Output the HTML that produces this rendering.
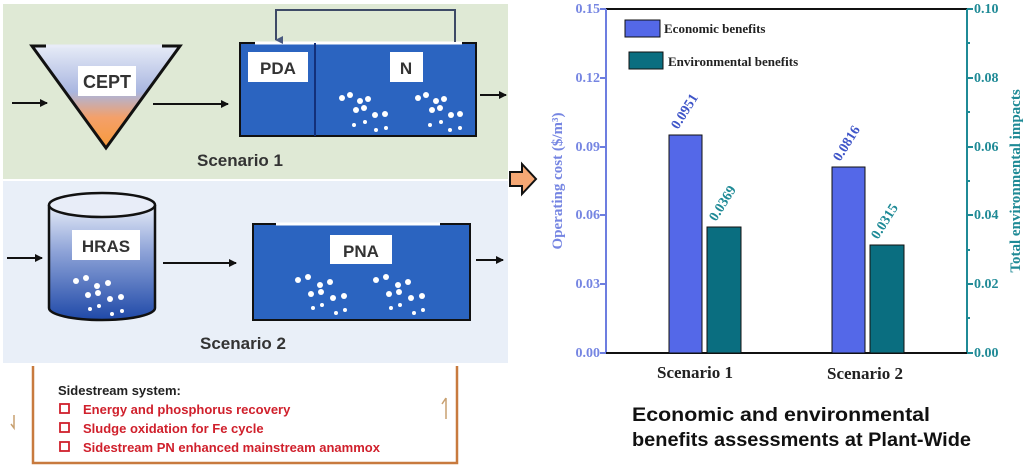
<!DOCTYPE html>
<html><head><meta charset="utf-8"><style>html,body{margin:0;padding:0;background:#fff;}svg{display:block}</style></head>
<body>
<svg width="1026" height="467" viewBox="0 0 1026 467" xmlns="http://www.w3.org/2000/svg">
<defs>
<linearGradient id="cept" x1="0" y1="0" x2="0" y2="1"><stop offset="0" stop-color="#e6ebf7"/><stop offset="0.45" stop-color="#a9b6e0"/><stop offset="0.7" stop-color="#f4a06a"/><stop offset="1" stop-color="#f79a3a"/></linearGradient>
<linearGradient id="cyl" x1="0" y1="0" x2="0" y2="1"><stop offset="0" stop-color="#e6ecf8"/><stop offset="0.4" stop-color="#8fa4d8"/><stop offset="1" stop-color="#1f49a8"/></linearGradient>
<marker id="ah" markerWidth="8" markerHeight="8" refX="7" refY="4" orient="auto" markerUnits="userSpaceOnUse"><path d="M0,0 L8,4 L0,8 z" fill="#111"/></marker>
<marker id="ah2" markerWidth="8" markerHeight="8" refX="4" refY="7" orient="auto" markerUnits="userSpaceOnUse"><path d="M0,0 L8,0 L4,8 z" fill="#4a5a80"/></marker>
</defs>
<rect x="3" y="4" width="505" height="175" fill="#dfe9d5"/>
<rect x="3" y="181" width="505" height="182" fill="#e9eff8"/>
<polygon points="32,46 180,46 106,148" fill="url(#cept)" stroke="#111" stroke-width="3"/>
<line x1="46" y1="46" x2="162" y2="46" stroke="#e8ecf8" stroke-width="3"/>
<rect x="78" y="66" width="58" height="30" fill="#fff"/>
<text x="107" y="88" font-family="Liberation Sans, sans-serif" font-weight="bold" font-size="18" fill="#333" text-anchor="middle">CEPT</text>
<line x1="12" y1="103" x2="47" y2="103" stroke="#111" stroke-width="2" marker-end="url(#ah)"/>
<line x1="153" y1="104" x2="228" y2="104" stroke="#111" stroke-width="2" marker-end="url(#ah)"/>
<rect x="240" y="43" width="236" height="93" fill="#2b64c0" stroke="#111" stroke-width="2"/>
<line x1="255" y1="43" x2="462" y2="43" stroke="#fff" stroke-width="3"/>
<line x1="315" y1="43" x2="315" y2="136" stroke="#13307a" stroke-width="2"/>
<rect x="248" y="52" width="60" height="30" fill="#fff"/>
<text x="278" y="74" font-family="Liberation Sans, sans-serif" font-weight="bold" font-size="17" fill="#333" text-anchor="middle">PDA</text>
<rect x="390" y="52" width="33" height="30" fill="#fff"/>
<text x="406" y="74" font-family="Liberation Sans, sans-serif" font-weight="bold" font-size="17" fill="#333" text-anchor="middle">N</text>
<g fill="#fff">
<circle cx="342" cy="98" r="3"/><circle cx="350" cy="95" r="3"/><circle cx="360" cy="101" r="3"/><circle cx="368" cy="99" r="3"/><circle cx="356" cy="110" r="3"/><circle cx="364" cy="108" r="3"/><circle cx="375" cy="115" r="3"/><circle cx="385" cy="114" r="3"/><circle cx="354" cy="125" r="2"/><circle cx="365" cy="122" r="2"/><circle cx="376" cy="130" r="2"/><circle cx="386" cy="128" r="2"/>
<circle cx="418" cy="98" r="3"/><circle cx="426" cy="95" r="3"/><circle cx="436" cy="101" r="3"/><circle cx="444" cy="99" r="3"/><circle cx="432" cy="110" r="3"/><circle cx="440" cy="108" r="3"/><circle cx="451" cy="115" r="3"/><circle cx="460" cy="114" r="3"/><circle cx="430" cy="125" r="2"/><circle cx="441" cy="122" r="2"/><circle cx="450" cy="130" r="2"/><circle cx="460" cy="128" r="2"/>
</g>
<polyline points="455,42 455,10 276,10 276,40" fill="none" stroke="#3e4a66" stroke-width="2" marker-end="url(#ah2)"/>
<line x1="480" y1="95" x2="506" y2="95" stroke="#111" stroke-width="2" marker-end="url(#ah)"/>
<text x="240" y="166" font-family="Liberation Sans, sans-serif" font-weight="bold" font-size="17" fill="#333" text-anchor="middle">Scenario 1</text>
<polygon points="510,172 522,172 522,164 536,179 522,194 522,186 510,186" fill="#f4a774" stroke="#111" stroke-width="2"/>
<path d="M49,205 L49,308 A53,12 0 0 0 155,308 L155,205" fill="url(#cyl)" stroke="#111" stroke-width="2.5"/>
<ellipse cx="102" cy="205" rx="53" ry="12" fill="#e8edf8" stroke="#111" stroke-width="2.5"/>
<rect x="72" y="230" width="68" height="30" fill="#fff"/>
<text x="106" y="252" font-family="Liberation Sans, sans-serif" font-weight="bold" font-size="17" fill="#333" text-anchor="middle">HRAS</text>
<g fill="#fff"><circle cx="76" cy="281" r="3"/><circle cx="86" cy="278" r="3"/><circle cx="97" cy="286" r="3"/><circle cx="108" cy="283" r="3"/><circle cx="88" cy="295" r="3"/><circle cx="98" cy="293" r="3"/><circle cx="110" cy="299" r="3"/><circle cx="121" cy="297" r="3"/><circle cx="90" cy="309" r="2"/><circle cx="99" cy="306" r="2"/><circle cx="112" cy="314" r="2"/><circle cx="122" cy="311" r="2"/></g>
<line x1="7" y1="258" x2="42" y2="258" stroke="#111" stroke-width="2" marker-end="url(#ah)"/>
<line x1="163" y1="263" x2="236" y2="263" stroke="#111" stroke-width="2" marker-end="url(#ah)"/>
<rect x="253" y="224" width="217" height="96" fill="#2b64c0" stroke="#111" stroke-width="2"/>
<line x1="276" y1="224" x2="440" y2="224" stroke="#fff" stroke-width="3"/>
<rect x="330" y="235" width="62" height="29" fill="#fff"/>
<text x="361" y="257" font-family="Liberation Sans, sans-serif" font-weight="bold" font-size="17" fill="#333" text-anchor="middle">PNA</text>
<g fill="#fff">
<circle cx="298" cy="280" r="3"/><circle cx="308" cy="277" r="3"/><circle cx="320" cy="285" r="3"/><circle cx="330" cy="282" r="3"/><circle cx="311" cy="294" r="3"/><circle cx="321" cy="292" r="3"/><circle cx="333" cy="298" r="3"/><circle cx="344" cy="296" r="3"/><circle cx="313" cy="308" r="2"/><circle cx="322" cy="305" r="2"/><circle cx="336" cy="313" r="2"/><circle cx="345" cy="310" r="2"/>
<circle cx="376" cy="280" r="3"/><circle cx="386" cy="277" r="3"/><circle cx="398" cy="285" r="3"/><circle cx="408" cy="282" r="3"/><circle cx="389" cy="294" r="3"/><circle cx="399" cy="292" r="3"/><circle cx="411" cy="298" r="3"/><circle cx="422" cy="296" r="3"/><circle cx="391" cy="308" r="2"/><circle cx="400" cy="305" r="2"/><circle cx="414" cy="313" r="2"/><circle cx="423" cy="310" r="2"/>
</g>
<line x1="476" y1="260" x2="503" y2="260" stroke="#111" stroke-width="2" marker-end="url(#ah)"/>
<text x="243" y="349" font-family="Liberation Sans, sans-serif" font-weight="bold" font-size="17" fill="#333" text-anchor="middle">Scenario 2</text>
<polyline points="33,366 33,463 457,463 457,366" fill="none" stroke="#c87a3e" stroke-width="2.5"/>
<text x="58" y="395" font-family="Liberation Sans, sans-serif" font-weight="bold" font-size="13" fill="#222">Sidestream system:</text>
<g font-family="Liberation Sans, sans-serif" font-weight="bold" font-size="13" fill="#d0202c">
<text x="83" y="414">Energy and phosphorus recovery</text>
<text x="83" y="433">Sludge oxidation for Fe cycle</text>
<text x="83" y="452">Sidestream  PN enhanced mainstream anammox</text>
</g>
<g fill="none" stroke="#d0202c" stroke-width="1.8"><rect x="60" y="404" width="9" height="9"/><rect x="60" y="423" width="9" height="9"/><rect x="60" y="442" width="9" height="9"/></g>
<path d="M14,415 L14,428 L11,424" fill="none" stroke="#c8a070" stroke-width="1.5"/>
<path d="M446,398 L446,419 M446,398 L442,404" fill="none" stroke="#c8a070" stroke-width="1.5"/>
<rect x="606" y="9" width="361" height="344" fill="#fff" stroke="#111" stroke-width="2"/>
<line x1="606" y1="9" x2="606" y2="353" stroke="#6d7ee0" stroke-width="2"/>
<line x1="967" y1="9" x2="967" y2="353" stroke="#1f8a96" stroke-width="2"/>
<line x1="606" y1="353" x2="967" y2="353" stroke="#111" stroke-width="2"/>
<g stroke="#6d7ee0" stroke-width="2"><line x1="600" y1="9" x2="606" y2="9"/><line x1="600" y1="78" x2="606" y2="78"/><line x1="600" y1="147" x2="606" y2="147"/><line x1="600" y1="215" x2="606" y2="215"/><line x1="600" y1="284" x2="606" y2="284"/><line x1="600" y1="353" x2="606" y2="353"/></g>
<g stroke="#1f8a96" stroke-width="2"><line x1="967" y1="9" x2="973" y2="9"/><line x1="967" y1="78" x2="973" y2="78"/><line x1="967" y1="147" x2="973" y2="147"/><line x1="967" y1="215" x2="973" y2="215"/><line x1="967" y1="284" x2="973" y2="284"/><line x1="967" y1="353" x2="973" y2="353"/><line x1="967" y1="43" x2="970" y2="43"/><line x1="967" y1="112" x2="970" y2="112"/><line x1="967" y1="181" x2="970" y2="181"/><line x1="967" y1="250" x2="970" y2="250"/><line x1="967" y1="318" x2="970" y2="318"/></g>
<g font-family="Liberation Serif, serif" font-weight="bold" font-size="14" fill="#7585e2" text-anchor="end">
<text x="600" y="13">0.15</text><text x="600" y="82">0.12</text><text x="600" y="151">0.09</text><text x="600" y="219">0.06</text><text x="600" y="288">0.03</text><text x="600" y="357">0.00</text>
</g>
<g font-family="Liberation Serif, serif" font-weight="bold" font-size="14" fill="#1f8a96">
<text x="974" y="13">0.10</text><text x="974" y="82">0.08</text><text x="974" y="151">0.06</text><text x="974" y="219">0.04</text><text x="974" y="288">0.02</text><text x="974" y="357">0.00</text>
</g>
<text transform="translate(562,181) rotate(-90)" font-family="Liberation Serif, serif" font-weight="bold" font-size="15" fill="#7585e2" text-anchor="middle">Operating cost ($/m³)</text>
<text transform="translate(1020,181) rotate(-90)" font-family="Liberation Serif, serif" font-weight="bold" font-size="15" fill="#1f8a96" text-anchor="middle">Total environmental impacts</text>
<rect x="669" y="135" width="33" height="218" fill="#5468e8" stroke="#111" stroke-width="1"/>
<rect x="707" y="227" width="34" height="126" fill="#0a6e80" stroke="#111" stroke-width="1"/>
<rect x="832" y="167" width="33" height="186" fill="#5468e8" stroke="#111" stroke-width="1"/>
<rect x="870" y="245" width="34" height="108" fill="#0a6e80" stroke="#111" stroke-width="1"/>
<g font-family="Liberation Serif, serif" font-weight="bold" font-size="14">
<text transform="translate(678,130) rotate(-58)" fill="#3f55c8">0.0951</text>
<text transform="translate(716,222) rotate(-58)" fill="#1f8a96">0.0369</text>
<text transform="translate(840,162) rotate(-58)" fill="#3f55c8">0.0816</text>
<text transform="translate(878,240) rotate(-58)" fill="#1f8a96">0.0315</text>
</g>
<rect x="625" y="20" width="35" height="17" fill="#5468e8" stroke="#111" stroke-width="1"/>
<rect x="629" y="52" width="34" height="17" fill="#0a6e80" stroke="#111" stroke-width="1"/>
<g font-family="Liberation Serif, serif" font-weight="bold" font-size="13" fill="#222">
<text x="664" y="33">Economic benefits</text>
<text x="668" y="66">Environmental benefits</text>
</g>
<g font-family="Liberation Serif, serif" font-weight="bold" font-size="17" fill="#222" text-anchor="middle">
<text x="695" y="378">Scenario 1</text><text x="865" y="379">Scenario 2</text>
</g>
<g font-family="Liberation Sans, sans-serif" font-weight="bold" font-size="19" fill="#111">
<text x="632" y="421" textLength="298" lengthAdjust="spacingAndGlyphs">Economic and environmental</text>
<text x="632" y="446" textLength="339" lengthAdjust="spacingAndGlyphs">benefits assessments at Plant-Wide</text>
</g>
</svg>
</body></html>
